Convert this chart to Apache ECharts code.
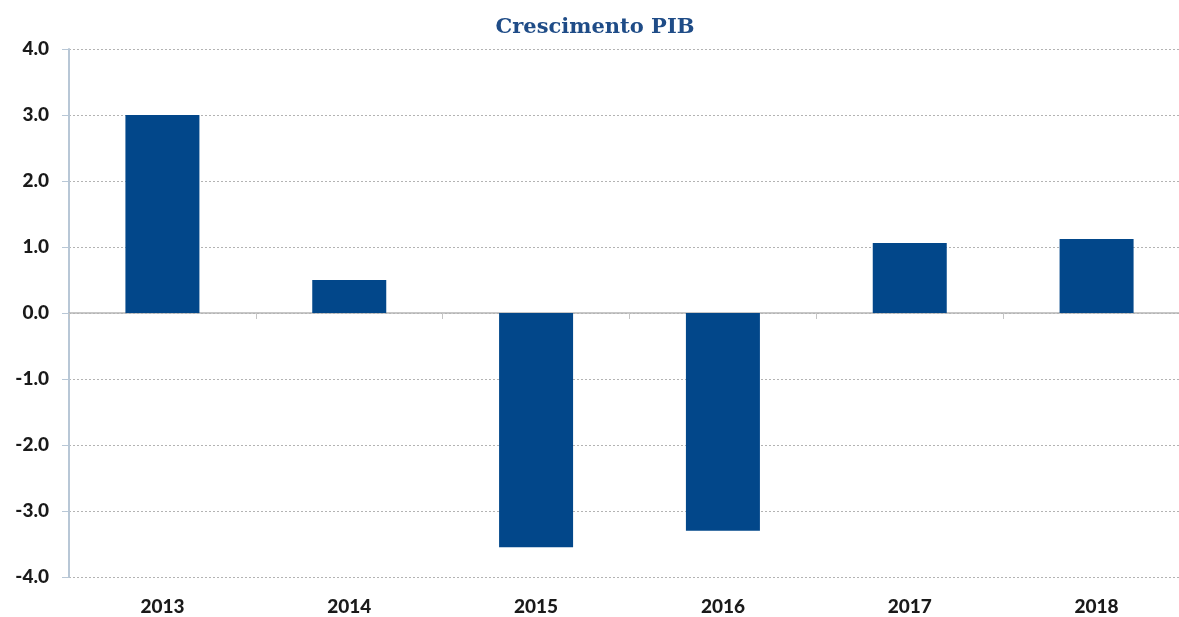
<!DOCTYPE html>
<html>
<head>
<meta charset="utf-8">
<script src="https://cdn.jsdelivr.net/npm/echarts@6/dist/echarts.min.js"></script>
<style>
  html, body { margin: 0; padding: 0; background: #ffffff; overflow: hidden; }
  #chart { width: 1190px; height: 617px; }
</style>
</head>
<body>
<div id="chart"></div>
<script>
// Crescimento anual do PIB (%)
const years = ['2013', '2014', '2015', '2016', '2017', '2018'];
const growth = [3.0, 0.5, -3.55, -3.3, 1.06, 1.12];
const yTicks = { min: -4, max: 4, interval: 1 };

const chart = echarts.init(document.getElementById('chart'));

const labelFont = {
  fontFamily: 'Lato, "Open Sans", sans-serif',
  fontWeight: 900,
  fontSize: 19,
  color: '#1a1a1a'
};

chart.setOption({
  animation: false,
  title: {
    text: 'Crescimento PIB',
    left: 'center',
    top: 12,
    textStyle: {
      fontFamily: '"DejaVu Serif", "Liberation Serif", serif',
      fontWeight: 'bold',
      fontSize: 21,
      color: '#1f4c87'
    }
  },
  grid: { left: 69, right: 0, top: 49, bottom: 40 },
  xAxis: [
    {
      type: 'category',
      data: years,
      axisLine: { onZero: true, lineStyle: { color: '#b5b5b5', width: 1.5 } },
      axisTick: { show: true, length: 6, lineStyle: { color: '#c4c4c4' } },
      axisLabel: { show: false }
    },
    {
      type: 'category',
      data: years,
      position: 'bottom',
      axisLine: { show: false },
      axisTick: { show: false },
      axisLabel: Object.assign({ margin: 20 }, labelFont)
    }
  ],
  yAxis: {
    type: 'value',
    min: yTicks.min,
    max: yTicks.max,
    interval: yTicks.interval,
    axisLine: { show: true, lineStyle: { color: '#b8c7d6', width: 2 } },
    axisTick: { show: true, length: 7, lineStyle: { color: '#b8c7d6' } },
    axisLabel: Object.assign({
      margin: 20,
      formatter: v => v.toFixed(1)
    }, labelFont),
    splitLine: {
      show: true,
      lineStyle: { color: '#b3b3b3', type: [2, 2], width: 1 }
    }
  },
  series: [
    {
      type: 'bar',
      data: growth,
      barWidth: 74,
      itemStyle: { color: '#02478a' }
    }
  ]
});
</script>
</body>
</html>
